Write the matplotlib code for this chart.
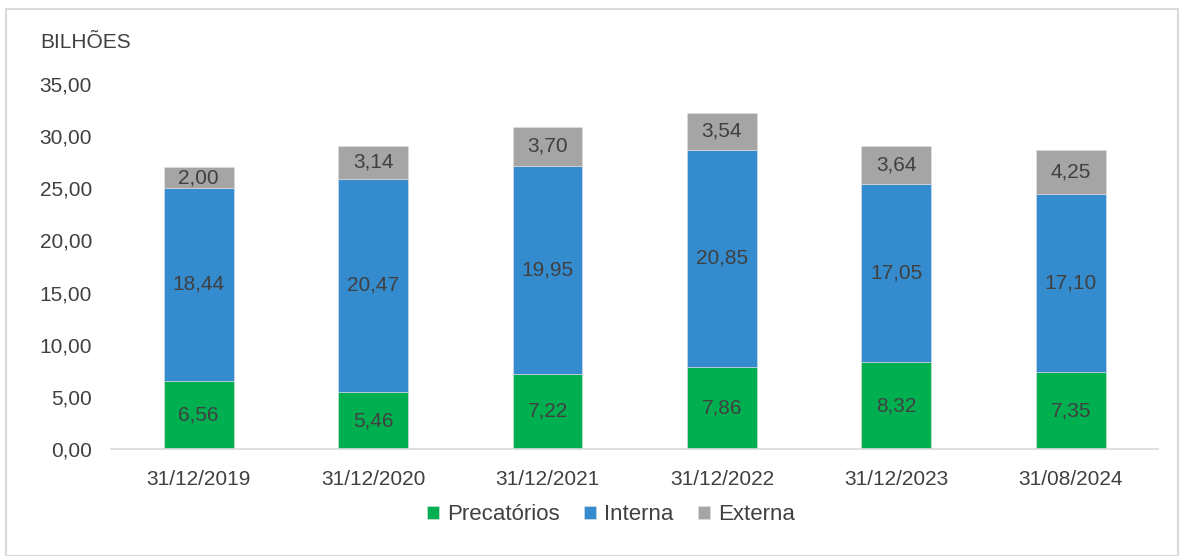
import matplotlib
matplotlib.use("Agg")
import matplotlib.pyplot as plt
from matplotlib import font_manager
from matplotlib.patches import Rectangle

names = {f.name for f in font_manager.fontManager.ttflist}
fam = ['Liberation Sans Narrow', 'Liberation Sans', 'DejaVu Sans'] if 'Liberation Sans Narrow' in names else ['Liberation Sans', 'DejaVu Sans']
plt.rcParams['font.family'] = fam

categories = ['31/12/2019', '31/12/2020', '31/12/2021', '31/12/2022', '31/12/2023', '31/08/2024']
precatorios = [6.56, 5.46, 7.22, 7.86, 8.32, 7.35]
interna = [18.44, 20.47, 19.95, 20.85, 17.05, 17.10]
externa = [2.00, 3.14, 3.70, 3.54, 3.64, 4.25]
series_names = ['Precatórios', 'Interna', 'Externa']
colors = ['#00B050', '#348BCE', '#A5A5A5']
yticks = [0, 5, 10, 15, 20, 25, 30, 35]

W, H = 1188, 556
fig = plt.figure(figsize=(W/100, H/100), dpi=100)
fig.patches.append(Rectangle((6/W, 0), (W-6-10)/W, (H-9)/H, transform=fig.transFigure,
                             fill=False, edgecolor='#D9D9D9', linewidth=1.5))

left, right = 111.5, 1158
y0, y35 = 449, 84
ax = fig.add_axes([left/W, (H-y0)/H, (right-left)/W, (y0-y35)/H])

x = list(range(len(categories)))
bottoms = [0]*len(categories)
text_color = '#404040'
for vals, name, col in zip([precatorios, interna, externa], series_names, colors):
    ax.bar(x, vals, width=0.4, bottom=bottoms, color=col, label=name,
           edgecolor='#E0E0E0', linewidth=0.4)
    for xi, v, b in zip(x, vals, bottoms):
        ax.text(xi, b + v/2, f"{v:.2f}".replace('.', ','), ha='center', va='center',
                fontsize=15, color=text_color)
    bottoms = [b + v for b, v in zip(bottoms, vals)]

ax.set_xlim(-0.5, len(categories) - 0.5)
ax.set_ylim(0, 35)
ax.set_yticks(yticks)
ax.set_yticklabels([f"{t:.2f}".replace('.', ',') for t in yticks], fontsize=15, color=text_color)
ax.set_xticks(x)
ax.set_xticklabels(categories, fontsize=15, color=text_color)
ax.tick_params(axis='both', length=0)
ax.tick_params(axis='y', pad=14)
ax.tick_params(axis='x', pad=15)
for s in ['top', 'right', 'left']:
    ax.spines[s].set_visible(False)
ax.spines['bottom'].set_color('#D9D9D9')
ax.spines['bottom'].set_linewidth(1.2)

fig.text(40/W, 1 - 42/H, 'BILHÕES', fontsize=15, color=text_color, ha='left', va='center')

fig.legend(loc='center', bbox_to_anchor=(611/W, 1 - 515/H), ncol=3, frameon=False,
           fontsize=16, handlelength=0.55, handleheight=0.55, handletextpad=0.35,
           columnspacing=1.1, labelcolor=text_color)

fig.savefig('out.png', dpi=100)
